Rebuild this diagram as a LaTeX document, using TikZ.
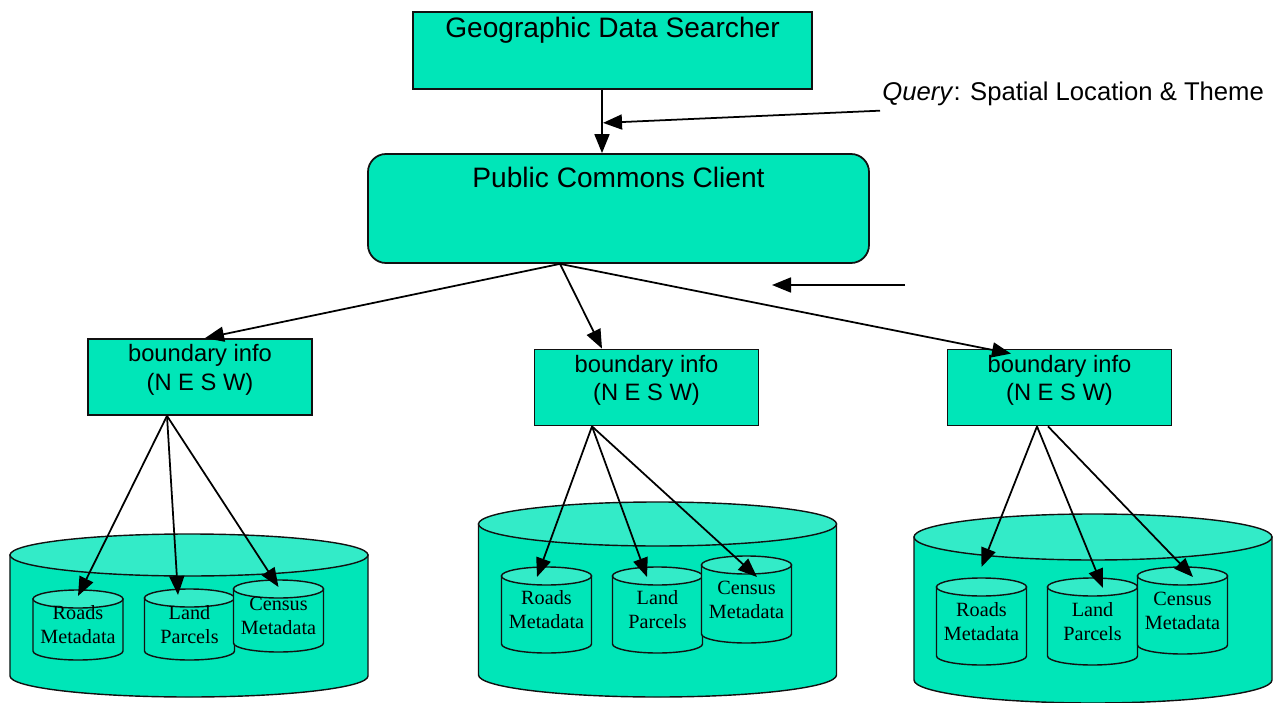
\documentclass[tikz,border=0pt]{standalone}
\usepackage{fontspec}
\setmainfont{Liberation Sans}
\newfontfamily\timesfont{Liberation Serif}
\usepackage{tikz}
\usetikzlibrary{positioning, arrows.meta, calc, backgrounds}
\definecolor{commonsGreen}{HTML}{00E6B8}
\definecolor{commonsTop}{HTML}{33EBC8}
\definecolor{edgeDark}{HTML}{111111}

\begin{document}
\begin{tikzpicture}[
  every node/.style={font=\fontsize{13.5}{16.4}\selectfont},
  mainbox/.style={
    rectangle, draw=edgeDark, line width=1pt, fill=commonsGreen,
    minimum width=#1, minimum height=1.52cm, inner sep=0pt
  },
  boxtext/.style={
    anchor=north, inner sep=0pt, yshift=-0.12cm, align=center
  },
  bigtext/.style={
    boxtext, font=\fontsize{16}{19}\selectfont
  },
  vault/.style={
    rectangle, minimum width=7.16cm, minimum height=#1,
    inner sep=0pt, outer sep=0pt
  },
  store/.style={
    rectangle, minimum width=1.8cm, minimum height=#1,
    inner sep=0pt, outer sep=0pt,
    align=center, font=\timesfont\fontsize{11.5}{13.6}\selectfont
  },
  drum/.style={
    draw=edgeDark, line width=0.8pt, fill=commonsGreen
  },
  arr/.style={
    -{Triangle[length=0.38cm, width=0.3cm]}, line width=1pt, draw=black
  },
]
\useasboundingbox (0,0) rectangle (25.6,-14.06);

% === Searcher and client ===
\node[mainbox=7.98cm, minimum height=1.54cm,
  label={[bigtext]north:Geographic Data Searcher}] (gds) at (12.25,-1.01) {};
\node[mainbox=10.02cm, minimum height=2.18cm, rounded corners=0.36cm,
  label={[bigtext, yshift=-0.16cm]north:Public Commons Client}] (pcc) at (12.37,-4.17) {};

\node[anchor=base west, inner sep=0pt, font=\fontsize{14.6}{18}\selectfont]
  (qry) at (17.64,-2.0) {\textit{Query}: Spatial Location \& Theme};

\coordinate (drop) at ([xshift=-0.21cm]gds.south);
\draw[arr] (drop) -- (drop |- pcc.north);
\draw[arr] ([xshift=-0.04cm, yshift=-0.1cm]qry.south west) -- ($(drop)+(0.02,-0.66)$);

\coordinate (backA) at (18.1,-5.7);
\coordinate (backB) at (15.44,-5.7);
\draw[arr] (backA) -- (backB);

% === Boundary boxes ===
\node[mainbox=4.48cm, label={[boxtext]north:boundary info\\(N E S W)}] (b1) at (4.0,-7.54) {};
\node[mainbox=4.48cm, label={[boxtext]north:boundary info\\(N E S W)}] (b2) at (12.93,-7.75) {};
\node[mainbox=4.48cm, label={[boxtext]north:boundary info\\(N E S W)}] (b3) at (21.19,-7.75) {};

\coordinate (fan) at ([xshift=-1.17cm]pcc.south);
\draw[arr] (fan) -- ([xshift=0.1cm]b1.north);
\draw[arr] (fan) -- ([xshift=-0.89cm]b2.north);
\draw[arr] (fan) -- ([xshift=-0.97cm, yshift=-0.1cm]b3.north);

% === Data stores ===
\node[vault=3.26cm] (db1) at (3.78,-12.31) {};
\node[vault=3.9cm]  (db2) at (13.15,-11.99) {};
\node[vault=3.78cm] (db3) at (21.86,-12.17) {};

\node[store=1.4cm]  (r1) at (1.56,-12.5)  {Roads\\Metadata};
\node[store=1.42cm] (l1) at (3.79,-12.49) {Land\\Parcels};
\node[store=1.44cm] (c1) at (5.57,-12.32) {Census\\Metadata};

\node[store=1.72cm] (r2) at (10.93,-12.2)  {Roads\\Metadata};
\node[store=1.72cm] (l2) at (13.15,-12.2)  {Land\\Parcels};
\node[store=1.74cm] (c2) at (14.93,-11.99) {Census\\Metadata};

\node[store=1.74cm] (r3) at (19.63,-12.43) {Roads\\Metadata};
\node[store=1.74cm] (l3) at (21.85,-12.43) {Land\\Parcels};
\node[store=1.74cm] (c3) at (23.65,-12.21) {Census\\Metadata};

% cylinder bodies behind the store texts
\begin{scope}[on background layer]
  \foreach \c/\r in {db1/0.42, db2/0.44, db3/0.46,
                     r1/0.18, l1/0.18, c1/0.18,
                     r2/0.18, l2/0.18, c2/0.18,
                     r3/0.18, l3/0.18, c3/0.18} {
    \path[drum] let \p1=(\c.north west), \p2=(\c.south east),
                    \n1={(\x2-\x1)/2} in
      (\x1,{\y1-\r cm}) -- (\x1,{\y2+\r cm})
      arc[start angle=180, end angle=360, x radius=\n1, y radius=\r cm]
      -- (\x2,{\y1-\r cm}) -- cycle;
    \path[drum, fill=commonsTop] let \p1=(\c.north west), \p2=(\c.south east),
                    \n1={(\x2-\x1)/2} in
      ({(\x1+\x2)/2},{\y1-\r cm}) ellipse[x radius=\n1, y radius=\r cm];
  }
\end{scope}

% === Box to store links ===
\draw[arr] ([xshift=-0.66cm]b1.south) -- ([yshift=-0.12cm]r1.north);
\draw[arr] ([xshift=-0.66cm]b1.south) -- ([xshift=-0.23cm, yshift=-0.12cm]l1.north);
\draw[arr] ([xshift=-0.66cm]b1.south) -- ([yshift=-0.14cm]c1.north);

\draw[arr] ([xshift=-1.09cm]b2.south) -- ([xshift=-0.19cm, yshift=-0.2cm]r2.north);
\draw[arr] ([xshift=-1.09cm]b2.south) -- ([xshift=-0.21cm, yshift=-0.2cm]l2.north);
\draw[arr] ([xshift=-1.09cm]b2.south) -- ([xshift=0.21cm, yshift=-0.42cm]c2.north);

\draw[arr] ([xshift=-0.45cm]b3.south) -- ([yshift=0.22cm]r3.north);
\draw[arr] ([xshift=-0.45cm]b3.south) -- ([xshift=0.21cm, yshift=-0.2cm]l3.north);
\draw[arr] ([xshift=-0.23cm]b3.south) -- ([xshift=0.21cm, yshift=-0.2cm]c3.north);

\end{tikzpicture}
\end{document}
